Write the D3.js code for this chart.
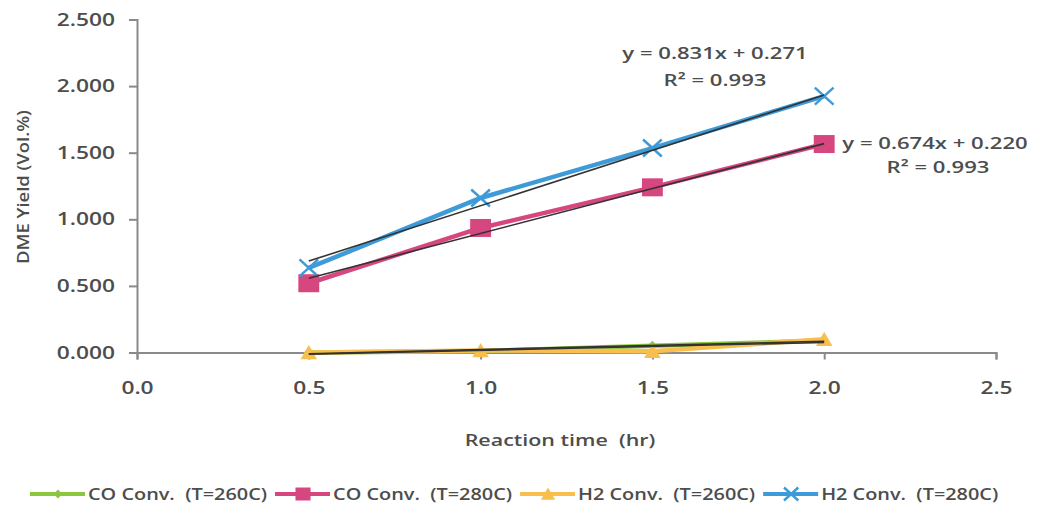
<!DOCTYPE html>
<html>
<head>
<meta charset="utf-8">
<script src="https://cdn.jsdelivr.net/npm/d3@7"></script>
<style>
  body { margin: 0; background: #fff; }
  text { font-family: "Open Sans", sans-serif; fill: #4d4d4d; font-weight: 600; white-space: pre; }
</style>
</head>
<body>
<div id="chart"></div>
<script>
// reaction time (hr)
var times = [0.5, 1.0, 1.5, 2.0];

// DME yield (Vol.%) per series
var coConv260 = [0.000, 0.010, 0.050, 0.090];
var coConv280 = [0.520, 0.935, 1.240, 1.565];
var h2Conv260 = [0.000, 0.015, 0.010, 0.100];
var h2Conv280 = [0.635, 1.160, 1.535, 1.925];

var seriesNames = ["CO Conv.  (T=260C)", "CO Conv.  (T=280C)", "H2 Conv.  (T=260C)", "H2 Conv.  (T=280C)"];
var seriesValues = [coConv260, coConv280, h2Conv260, h2Conv280];
var seriesColors = ["#8cc63f", "#d6467f", "#f8bf4e", "#3e9bd8"];
var seriesMarkers = ["diamond", "square", "triangle", "cross"];

// trendline equations printed on the chart (slope, intercept)
var trendCO280 = [0.674, 0.220];
var trendH2280 = [0.831, 0.271];
var eqLabels = ["y = 0.831x + 0.271", "R\u00b2 = 0.993", "y = 0.674x + 0.220", "R\u00b2 = 0.993"];

var xTicks = [0, 0.5, 1.0, 1.5, 2.0, 2.5];
var yTicks = [0, 0.5, 1.0, 1.5, 2.0, 2.5];

var W = 1041, H = 509;
var sx = 1.3; // glyphs in the picture are wide

var svg = d3.select("#chart").append("svg")
    .attr("width", W)
    .attr("height", H);

var x = d3.scaleLinear().domain([0, 2.5]).range([137, 996]);
var y = d3.scaleLinear().domain([0, 2.5]).range([352.5, 19.5]);

function linFit(xs, ys){
    var n = xs.length, mx = d3.mean(xs), my = d3.mean(ys);
    var num = 0, den = 0;
    for (var i = 0; i < n; i++){
        num += (xs[i] - mx) * (ys[i] - my);
        den += (xs[i] - mx) * (xs[i] - mx);
    }
    var b = num / den;
    return [b, my - b * mx];
}

function markerPath(type, s){
    if (type === "square"){
        return "M" + (-s*0.58) + "," + (-s*0.5) + "H" + (s*0.58) + "V" + (s*0.5) + "H" + (-s*0.58) + "Z";
    } else if (type === "triangle"){
        return "M0," + (-s*0.5) + "L" + (s*0.55) + "," + (s*0.45) + "L" + (-s*0.55) + "," + (s*0.45) + "Z";
    } else if (type === "diamond"){
        return "M0," + (-s*0.5) + "L" + (s*0.5) + ",0L0," + (s*0.5) + "L" + (-s*0.5) + ",0Z";
    }
    return "M" + (-s*0.55) + "," + (-s*0.5) + "L" + (s*0.55) + "," + (s*0.5) +
           "M" + (-s*0.55) + "," + (s*0.5) + "L" + (s*0.55) + "," + (-s*0.5);
}

function drawMarker(g, type, color, s){
    var p = g.append("path").attr("d", markerPath(type, s));
    if (type === "cross"){
        p.attr("fill", "none").attr("stroke", color).attr("stroke-width", 2.5);
    } else {
        p.attr("fill", color);
    }
    return p;
}

// axes
var yAxis = svg.append("g")
    .attr("transform", "translate(" + x(0) + ",0)")
    .call(d3.axisLeft(y).tickValues(yTicks).tickFormat(d3.format(".3f")).tickSize(8).tickPadding(12));
var xAxis = svg.append("g")
    .attr("transform", "translate(0," + y(0) + ")")
    .call(d3.axisBottom(x).tickValues(xTicks).tickFormat(d3.format(".1f")).tickSize(7).tickPadding(22));

[yAxis, xAxis].forEach(function(a){
    a.select(".domain").attr("stroke", "#8a8a8a").attr("stroke-width", 2);
    a.selectAll(".tick line").attr("stroke", "#8a8a8a").attr("stroke-width", 2);
    a.selectAll(".tick text")
        .style("font-family", "Open Sans, sans-serif")
        .style("font-size", "17.5px")
        .attr("fill", "#4d4d4d");
});
yAxis.selectAll(".tick text").attr("transform", "scale(" + sx + ",1)")
    .attr("x", function(){ return -22 / sx; });
xAxis.selectAll(".tick text").attr("transform", "scale(" + sx + ",1)");

// axis titles
svg.append("text")
    .attr("transform", "translate(560,446) scale(" + sx + ",1)")
    .attr("text-anchor", "middle")
    .style("font-size", "16.5px")
    .text("Reaction time  (hr)");

svg.append("text")
    .attr("transform", "translate(29,187) rotate(-90) scale(1.15,1)")
    .attr("text-anchor", "middle")
    .style("font-size", "16px")
    .text("DME Yield (Vol.%)");

// series lines
var line = d3.line()
    .x(function(d){ return x(d[0]); })
    .y(function(d){ return y(d[1]); });

seriesValues.forEach(function(vals, i){
    svg.append("path")
        .datum(d3.zip(times, vals))
        .attr("d", line)
        .attr("fill", "none")
        .attr("stroke", seriesColors[i])
        .attr("stroke-width", 4.5);
});

// markers
var markerSizes = [10, 18, 15, 17];
seriesValues.forEach(function(vals, i){
    vals.forEach(function(v, j){
        var g = svg.append("g").attr("transform", "translate(" + x(times[j]) + "," + y(v) + ")");
        drawMarker(g, seriesMarkers[i], seriesColors[i], markerSizes[i]);
    });
});

// linear trendlines
var fits = [linFit(times, coConv260), trendCO280, linFit(times, h2Conv260), trendH2280];
fits.forEach(function(f){
    var x0 = d3.min(times), x1 = d3.max(times);
    svg.append("line")
        .attr("x1", x(x0)).attr("y1", y(f[0] * x0 + f[1]))
        .attr("x2", x(x1)).attr("y2", y(f[0] * x1 + f[1]))
        .attr("stroke", "#333")
        .attr("stroke-width", 1.6);
});

// equation labels
var eqPos = [[715, 59], [715, 86], [935, 149], [938, 173]];
eqLabels.forEach(function(t, i){
    svg.append("text")
        .attr("transform", "translate(" + eqPos[i][0] + "," + eqPos[i][1] + ") scale(" + sx + ",1)")
        .attr("text-anchor", "middle")
        .style("font-size", "17px")
        .text(t);
});

// legend
var lx = 30, ly = 494;
seriesNames.forEach(function(name, i){
    var g = svg.append("g").attr("transform", "translate(" + lx + "," + ly + ")");
    g.append("line")
        .attr("x1", 0).attr("x2", 55)
        .attr("stroke", seriesColors[i])
        .attr("stroke-width", 4);
    var m = g.append("g").attr("transform", "translate(28,0)");
    drawMarker(m, seriesMarkers[i], seriesColors[i], i === 0 ? 9 : 13);
    var t = g.append("text")
        .attr("transform", "translate(58,6) scale(1.22,1)")
        .style("font-size", "16.3px")
        .text(name);
    lx += 58 + t.node().getComputedTextLength() * 1.22 + 8;
});
</script>
</body>
</html>
